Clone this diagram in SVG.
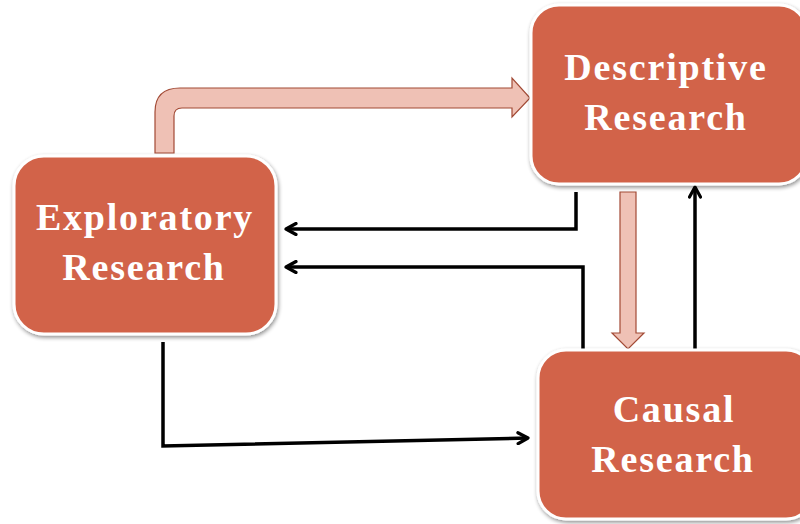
<svg xmlns="http://www.w3.org/2000/svg" width="800" height="524" viewBox="0 0 800 524">
  <style>
    .box { fill: #d2644a; stroke: #ffffff; stroke-width: 3; filter: url(#shadow); }
    .label { font-family: "Liberation Serif", "DejaVu Serif", serif; font-weight: bold; font-size: 38px; fill: #ffffff; text-anchor: middle; letter-spacing: 1.8px; }
    .wire { fill: none; stroke: #000000; stroke-width: 3.5; stroke-linejoin: miter; }
    .block { fill: #efc1b5; stroke: #a24a35; stroke-width: 1.2; }
  </style>
  <defs>
    <filter id="shadow" x="-10%" y="-10%" width="125%" height="125%">
      <feGaussianBlur in="SourceAlpha" stdDeviation="2"/>
      <feOffset dx="1" dy="2" result="b"/>
      <feComponentTransfer><feFuncA type="linear" slope="0.45"/></feComponentTransfer>
      <feMerge><feMergeNode/><feMergeNode in="SourceGraphic"/></feMerge>
    </filter>
    <marker id="chev" viewBox="0 0 14 14" refX="12" refY="7" markerWidth="14" markerHeight="14" markerUnits="userSpaceOnUse" orient="auto">
      <path d="M2,1.5 L12,7 L2,12.5" fill="none" stroke="#000" stroke-width="3.2" stroke-linecap="round" stroke-linejoin="round"/>
    </marker>
  </defs>

  <!-- connectors -->
  <g id="connectors">
    <!-- bent block arrow: Exploratory -> Descriptive -->
    <path class="block" d="M155,153 L155,112 Q155,88 180,88 L512,88 L512,78 L530,98 L512,117 L512,108 L182,108 Q174,108 174,116 L174,153 Z"/>
    <!-- block arrow: Descriptive -> Causal -->
    <path class="block" d="M620,192 L636,192 L636,333 L644,333 L628,349 L612,333 L620,333 Z"/>
    <!-- Descriptive -> Exploratory -->
    <path class="wire" d="M576,192 L576,229 L286,229" marker-end="url(#chev)"/>
    <!-- Causal -> Exploratory -->
    <path class="wire" d="M583,349 L583,267 L286,267" marker-end="url(#chev)"/>
    <!-- Causal -> Descriptive -->
    <path class="wire" d="M695,349 L695,187" marker-end="url(#chev)"/>
    <!-- Exploratory -> Causal -->
    <path class="wire" d="M163,342 L163,446 L528,438" marker-end="url(#chev)"/>
  </g>

  <g id="exploratory">
    <rect class="box" x="14" y="156" width="262" height="178" rx="30"/>
    <text class="label" x="145" y="230">Exploratory</text>
    <text class="label" x="144" y="280">Research</text>
  </g>

  <g id="descriptive">
    <rect class="box" x="531" y="5" width="276" height="179" rx="28"/>
    <text class="label" x="666" y="80">Descriptive</text>
    <text class="label" x="666" y="130">Research</text>
  </g>

  <g id="causal">
    <rect class="box" x="538" y="350" width="276" height="169" rx="28"/>
    <text class="label" x="674" y="422">Causal</text>
    <text class="label" x="673" y="472">Research</text>
  </g>
</svg>
